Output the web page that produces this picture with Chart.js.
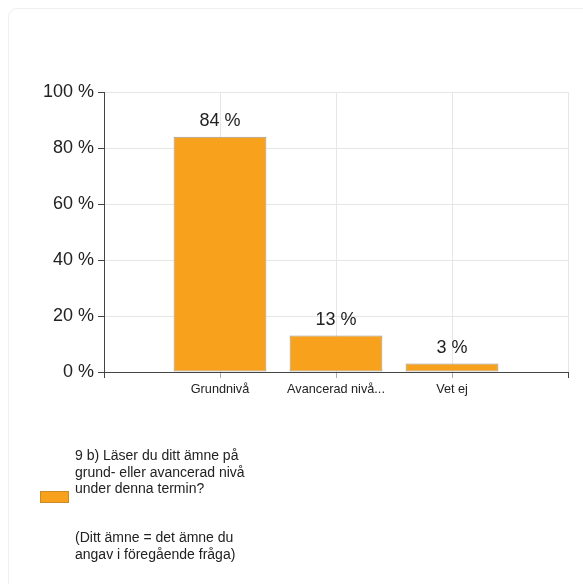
<!DOCTYPE html>
<html>
<head>
<meta charset="utf-8">
<script src="https://cdn.jsdelivr.net/npm/chart.js@4"></script>
<style>
  html, body { margin:0; padding:0; background:#fff; }
  body { width:583px; height:584px; position:relative; overflow:hidden; font-family:"Liberation Sans", Arial, sans-serif; color:#222; }
  #card { position:absolute; left:8px; top:8px; width:700px; height:700px; border:1px solid #efefef; border-radius:9px; box-sizing:border-box; }
  #c { position:absolute; left:0; top:0; }
  #swatch { position:absolute; left:40px; top:491px; width:29px; height:12px; box-sizing:border-box; border:1px solid #c98a2a; }
  .para { position:absolute; left:75px; font-size:14px; line-height:16.5px; white-space:pre; }
</style>
</head>
<body>
<div id="card"></div>
<canvas id="c" width="583" height="584"></canvas>
<div id="swatch"></div>
<div class="para" id="p1" style="top:447px"></div>
<div class="para" id="p2" style="top:529px"></div>
<script>
const categories = ['Grundnivå', 'Avancerad nivå...', 'Vet ej'];
const values = [84, 13, 3];
const seriesName = ['9 b) Läser du ditt ämne på', 'grund- eller avancerad nivå', 'under denna termin?'];
const seriesNote = ['(Ditt ämne = det ämne du', 'angav i föregående fråga)'];
const yTicks = [0, 20, 40, 60, 80, 100];

const barColor = '#F8A11D';
const labels = [''].concat(categories, ['']);
const data = [null].concat(values, [null]);

document.getElementById('swatch').style.background = barColor;
document.getElementById('p1').textContent = seriesName.join('\n');
document.getElementById('p2').textContent = seriesNote.join('\n');

const FONT = '"Liberation Sans", Arial, sans-serif';
const dark = '#444444';
const light = '#e6e6e6';

const valueLabels = {
  id: 'valueLabels',
  afterDatasetsDraw(chart) {
    const ctx = chart.ctx;
    const meta = chart.getDatasetMeta(0);
    ctx.save();
    ctx.font = '18px ' + FONT;
    ctx.fillStyle = '#222';
    ctx.textAlign = 'center';
    ctx.textBaseline = 'middle';
    meta.data.forEach((el, i) => {
      const v = data[i];
      if (v === null || v === undefined) return;
      ctx.fillText(v + ' %', el.x, el.y - 16);
    });
    ctx.restore();
  }
};

new Chart(document.getElementById('c'), {
  type: 'bar',
  data: {
    labels: labels,
    datasets: [{
      label: seriesName.join(' '),
      data: data,
      backgroundColor: barColor,
      borderColor: '#9a9a9a',
      borderWidth: 1,
      borderSkipped: false,
      barPercentage: 0.8,
      categoryPercentage: 1.0
    }]
  },
  options: {
    responsive: false,
    animation: false,
    devicePixelRatio: 1,
    layout: { padding: { top: 92, right: 15, left: 0, bottom: 0 } },
    plugins: { legend: { display: false }, tooltip: { enabled: false } },
    scales: {
      x: {
        offset: false,
        afterFit(s) { s.height = 212; },
        grid: {
          offset: false,
          color: (c) => c.index === 0 ? dark : light,
          tickColor: (c) => (c.index === 0 || c.index === labels.length - 1) ? dark : '#aaaaaa',
          tickLength: 6,
          lineWidth: 1
        },
        border: { color: dark, width: 1 },
        ticks: {
          autoSkip: false,
          maxRotation: 0,
          padding: 4,
          color: '#222',
          font: { family: FONT, size: 12.7 }
        }
      },
      y: {
        min: 0,
        max: 100,
        afterFit(s) { s.width = 104; },
        afterBuildTicks(s) { s.ticks = yTicks.map(v => ({ value: v })); },
        grid: {
          color: (c) => (c.tick && c.tick.value === 0) ? dark : light,
          tickColor: dark,
          tickLength: 6,
          lineWidth: 1
        },
        border: { color: dark, width: 1 },
        ticks: {
          padding: 4,
          color: '#222',
          font: { family: FONT, size: 18 },
          callback: (v) => v + ' %'
        }
      }
    }
  },
  plugins: [valueLabels]
});
</script>
</body>
</html>
